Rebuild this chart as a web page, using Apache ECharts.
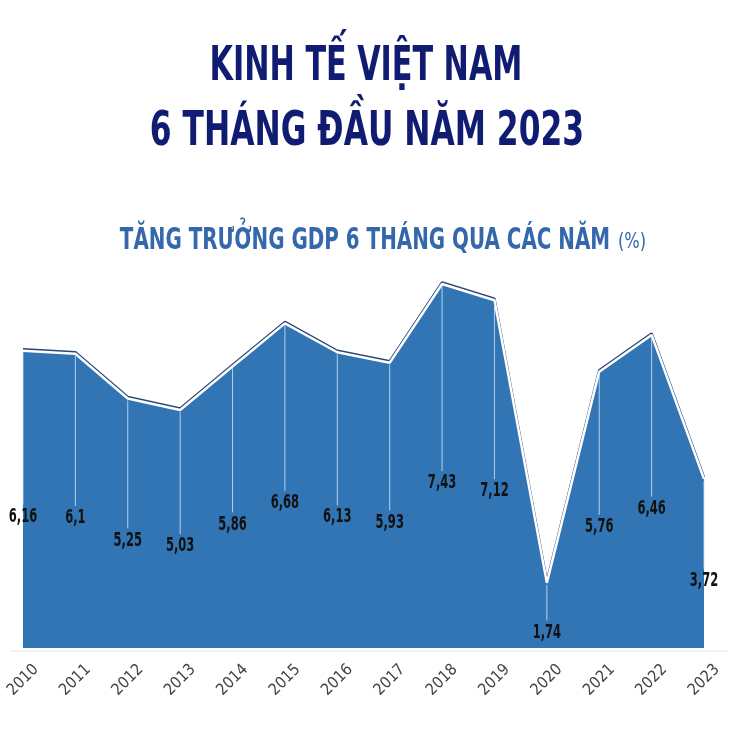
<!DOCTYPE html>
<html>
<head>
    <meta charset="utf-8">
    <title>Kinh tế Việt Nam 6 tháng đầu năm 2023</title>
    <script src="https://cdn.jsdelivr.net/npm/echarts@6/dist/echarts.min.js"></script>
    <style>
        html, body { margin: 0; padding: 0; background: #fff; }
    </style>
</head>
<body>
    <div id="main" style="width: 730px; height: 734px;"></div>

    <script type="text/javascript">
        // du lieu
        var years = ['2010', '2011', '2012', '2013', '2014', '2015', '2016',
                     '2017', '2018', '2019', '2020', '2021', '2022', '2023'];
        var gdp = [6.16, 6.1, 5.25, 5.03, 5.86, 6.68, 6.13,
                   5.93, 7.43, 7.12, 1.74, 5.76, 6.46, 3.72];

        var titleLines = ['KINH TẾ VIỆT NAM', '6 THÁNG ĐẦU NĂM 2023'];
        var subTitle = 'TĂNG TRƯỞNG GDP 6 THÁNG QUA CÁC NĂM';
        var unit = '(%)';

        // khong co font hep -> dung DejaVu Sans Condensed va ep ngang
        var FONT = '"DejaVu Sans Condensed", "Liberation Sans Narrow", sans-serif';

        var myChart = echarts.init(document.getElementById('main'));

        var option = {
            animation: false,
            backgroundColor: '#ffffff',
            grid: {
                left: 23,
                right: 26,
                top: 254,
                bottom: 86,
                outerBoundsMode: 'none',
                containLabel: false
            },
            xAxis: {
                type: 'category',
                data: years,
                boundaryGap: false,
                axisLine: { show: false },
                axisTick: { show: false },
                axisLabel: {
                    rotate: 45,
                    interval: 0,
                    margin: 32,
                    align: 'center',
                    verticalAlign: 'middle',
                    fontFamily: FONT,
                    fontSize: 16,
                    color: '#444444'
                }
            },
            yAxis: {
                type: 'value',
                min: 0.5,
                max: 8,
                show: false,
                splitLine: { show: false }
            },
            graphic: [
                {
                    type: 'text',
                    x: 366, y: 68, scaleX: 0.70,
                    style: {
                        text: titleLines[0],
                        fontFamily: FONT, fontWeight: 'bold', fontSize: 48,
                        fill: '#101c72', align: 'center', verticalAlign: 'middle'
                    }
                },
                {
                    type: 'text',
                    x: 367, y: 133, scaleX: 0.726,
                    style: {
                        text: titleLines[1],
                        fontFamily: FONT, fontWeight: 'bold', fontSize: 48,
                        fill: '#101c72', align: 'center', verticalAlign: 'middle'
                    }
                },
                {
                    type: 'text',
                    x: 365, y: 241, scaleX: 0.737,
                    style: {
                        text: subTitle,
                        fontFamily: FONT, fontWeight: 'bold', fontSize: 30,
                        fill: '#3567ac', align: 'center', verticalAlign: 'middle'
                    }
                },
                {
                    type: 'text',
                    x: 618, y: 243, scaleX: 0.86,
                    style: {
                        text: unit,
                        fontFamily: FONT, fontSize: 21,
                        fill: '#3567ac', align: 'left', verticalAlign: 'middle'
                    }
                },
                {
                    type: 'line',
                    shape: { x1: 10, y1: 651, x2: 728, y2: 651 },
                    style: { stroke: '#e3e7ec', lineWidth: 1 }
                }
            ],
            series: [
                {
                    name: 'GDP',
                    type: 'line',
                    data: gdp,
                    symbol: 'none',
                    lineStyle: {
                        color: '#ffffff',
                        width: 2.5,
                        shadowColor: 'rgba(20, 50, 100, 0.9)',
                        shadowBlur: 0,
                        shadowOffsetY: -1.5
                    },
                    areaStyle: {
                        color: '#3175b5',
                        opacity: 1
                    },
                    z: 2
                },
                {
                    // nhan gia tri + duong doc
                    type: 'custom',
                    data: gdp.map(function (v, i) { return [i, v]; }),
                    clip: false,
                    z: 3,
                    renderItem: function (params, api) {
                        var i = api.value(0);
                        var v = api.value(1);
                        var top = api.coord([i, v]);
                        var mid = api.coord([i, v / 2]);
                        var labelY = mid[1] + 4;
                        return {
                            type: 'group',
                            children: [
                                {
                                    type: 'line',
                                    shape: { x1: top[0], y1: top[1] + 2, x2: top[0], y2: labelY - 12 },
                                    style: { stroke: 'rgba(205, 225, 248, 0.85)', lineWidth: 1 }
                                },
                                {
                                    type: 'text',
                                    x: top[0],
                                    y: labelY,
                                    scaleX: 0.64,
                                    style: {
                                        text: String(v).replace('.', ','),
                                        fontFamily: FONT,
                                        fontWeight: 'bold',
                                        fontSize: 20,
                                        fill: '#111111',
                                        align: 'center',
                                        verticalAlign: 'middle'
                                    }
                                }
                            ]
                        };
                    }
                }
            ]
        };

        myChart.setOption(option);
    </script>
</body>
</html>
